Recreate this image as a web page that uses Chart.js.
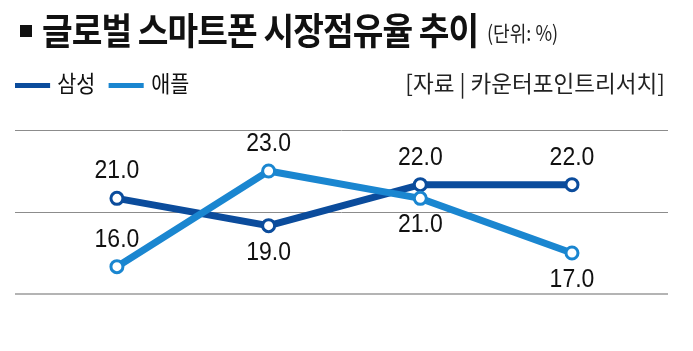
<!DOCTYPE html>
<html>
<head>
<meta charset="utf-8">
<script src="https://cdn.jsdelivr.net/npm/chart.js@4"></script>
<style>
  body { margin: 0; background: #fff; }
  #wrap { position: relative; width: 693px; height: 351px; overflow: hidden; }
  #chart { position: absolute; left: 0; top: 0; }
  .txt { position: absolute; white-space: nowrap; font-family: "Noto Sans CJK KR", sans-serif; color: #111; transform-origin: 0 50%; line-height: 1; }
  #sq { left: 20px; top: 25px; width: 12px; height: 12px; background: #111; position: absolute; }
  #title { left: 42px; top: 11px; font-size: 37px; font-weight: 700; transform: scaleX(0.9); letter-spacing: -1px; }
  #unit { left: 487px; top: 22px; font-size: 21px; transform: scaleX(0.86); color: #222; }
  #legend { left: 15px; top: 71px; font-size: 23px; transform: scaleX(0.9); }
  .sw { display: inline-block; width: 39px; height: 5px; vertical-align: middle; margin-right: 8px; }
  #source { right: 28px; top: 71px; font-size: 23px; color: #222; transform-origin: 100% 50%; transform: scaleX(0.98); }
</style>
</head>
<body>
<div id="wrap">
  <canvas id="chart" width="693" height="351"></canvas>
  <div id="sq"></div>
  <div class="txt" id="title">글로벌 스마트폰 시장점유율 추이</div>
  <div class="txt" id="unit">(단위: %)</div>
  <div class="txt" id="legend"></div>
  <div class="txt" id="source">[자료 | 카운터포인트리서치]</div>
</div>
<script>
let categories = ["1", "2", "3", "4"];
let samsung = [21.0, 19.0, 22.0, 22.0];
let apple = [16.0, 23.0, 21.0, 17.0];
let yTicks = [14, 20, 26];

let seriesNames = ["삼성", "애플"];
let seriesColors = ["#0b4c9c", "#1a86d0"];
// label above (-1) or below (1) each point
let labelSide = [[-1, 1, -1, -1], [-1, -1, 1, 1]];

window.onload = function () {
    drawLegend();
    drawGraph();
};

function drawLegend() {
    let html = "";
    for (let i = 0; i < seriesNames.length; i++) {
        html += '<span class="sw" style="background:' + seriesColors[i] + '"></span>' +
            '<span style="margin-right:15px">' + seriesNames[i] + '</span>';
    }
    document.getElementById("legend").innerHTML = html;
}

function toPoints(values) {
    return values.map((v, i) => ({ x: i, y: v }));
}

const valueLabels = {
    id: "valueLabels",
    afterDatasetsDraw(chart) {
        const ctx = chart.ctx;
        ctx.save();
        ctx.fillStyle = "#111";
        ctx.font = "25px 'Liberation Sans', Arial, sans-serif";
        ctx.textAlign = "center";
        ctx.textBaseline = "middle";
        chart.data.datasets.forEach((ds, d) => {
            const meta = chart.getDatasetMeta(d);
            meta.data.forEach((pt, i) => {
                const y = pt.y + labelSide[d][i] * 27;
                ctx.save();
                ctx.translate(pt.x, y);
                ctx.scale(0.92, 1);
                ctx.fillText(ds.data[i].y.toFixed(1), 0, 0);
                ctx.restore();
            });
        });
        ctx.restore();
    }
};

function drawGraph() {
    new Chart("chart", {
        type: "line",
        data: {
            datasets: [samsung, apple].map((vals, i) => ({
                label: seriesNames[i],
                data: toPoints(vals),
                order: i === 0 ? 1 : 0,
                borderColor: seriesColors[i],
                backgroundColor: "#fff",
                borderWidth: 7,
                pointRadius: 6,
                pointBorderWidth: 3,
                pointBackgroundColor: "#fff",
                pointBorderColor: seriesColors[i],
                fill: false,
                tension: 0
            }))
        },
        options: {
            responsive: false,
            animation: false,
            layout: { padding: { left: 15, right: 25, top: 130, bottom: 57 } },
            plugins: { legend: { display: false }, tooltip: { enabled: false } },
            scales: {
                x: {
                    type: "linear",
                    display: false,
                    min: -0.672,
                    max: 3.633
                },
                y: {
                    min: yTicks[0],
                    max: yTicks[yTicks.length - 1],
                    afterBuildTicks: (axis) => { axis.ticks = yTicks.map(v => ({ value: v })); },
                    border: { display: false },
                    ticks: { display: false },
                    grid: {
                        drawTicks: false,
                        color: (c) => c.tick.value === yTicks[0] ? "#b4b4b4" : "#8c8c8c",
                        lineWidth: (c) => c.tick.value === yTicks[0] ? 2 : 1
                    }
                }
            }
        },
        plugins: [valueLabels]
    });
}
</script>
</body>
</html>
